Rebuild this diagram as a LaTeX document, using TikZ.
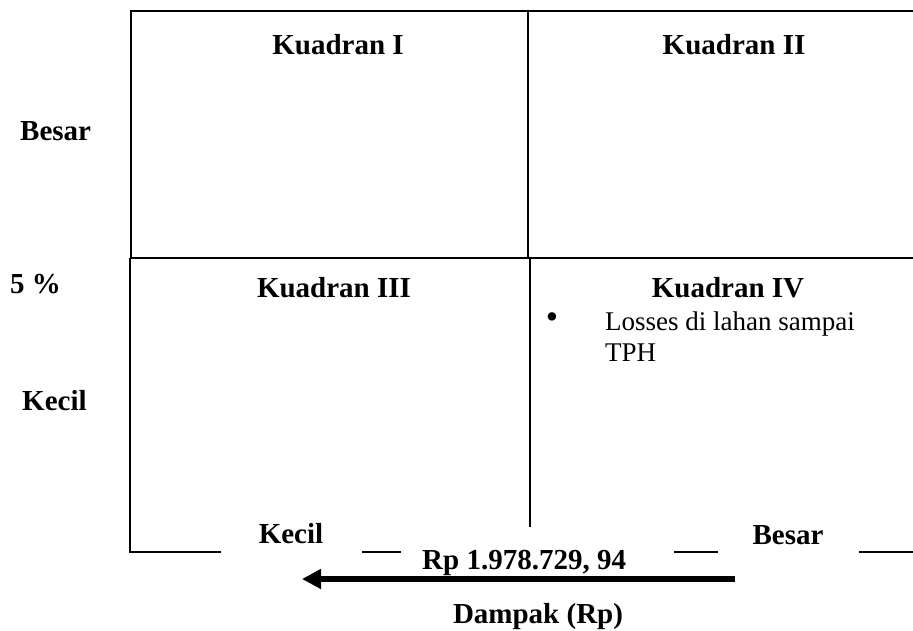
\documentclass[tikz,border=0pt]{standalone}
\usepackage{fontspec}
\setmainfont{Liberation Serif}
\usetikzlibrary{arrows.meta}

\begin{document}
\begin{tikzpicture}[x=1pt, y=-1pt,
  grid/.style={line width=1.6pt},
  head/.style={font=\fontsize{29}{35}\selectfont\bfseries, inner sep=0pt, anchor=base},
  item/.style={font=\fontsize{27}{31}\selectfont, inner sep=0pt, anchor=base west}]
  \useasboundingbox (0,0) rectangle (913,631);
  % top row
  \draw[grid] (131,258) -- (131,11) -- (913,11);
  \draw[grid] (528,11) -- (528,258);
  \draw[grid] (130,258) -- (913,258);
  % bottom row (broken by the axis labels)
  \draw[grid] (130,258) -- (130,552) -- (221,552);
  \draw[grid] (362,552) -- (401,552);
  \draw[grid] (674,552) -- (718,552);
  \draw[grid] (859,552) -- (913,552);
  \draw[grid] (530,258) -- (530,527);
  % quadrant titles
  \node[head] (q1) at (338,55) {Kuadran I};
  \node[head] (q2) at (734,55) {Kuadran II};
  \node[head] (q3) at (334,297) {Kuadran III};
  \node[head] (q4) at (728,297) {Kuadran IV};
  % vertical axis
  \node[head, anchor=base west] (ybig) at (20,141) {Besar};
  \node[head, anchor=base west] (ymid) at (10,293) {5 \%};
  \node[head, anchor=base west] (ysmall) at (22,410) {Kecil};
  % item in quadrant IV
  \node[item, anchor=center, scale=1.3] (dot) at (552,321) {\textbullet};
  \node[item] (loss1) at (605,330) {Losses di lahan sampai};
  \node[item] (loss2) at (605,361) {TPH};
  % horizontal axis
  \node[head] (xsmall) at (291,543) {Kecil};
  \node[head] (xbig) at (788,544) {Besar};
  \node[head, anchor=base west] (xmid) at (422,569) {Rp 1.978.729, 94};
  \coordinate (from) at (735,579);
  \coordinate (to) at (302,579);
  \draw[line width=5.5pt, -{Triangle[length=19pt, width=19pt]}] (from) -- (to);
  \node[head] (xlabel) at (538,623) {Dampak (Rp)};
\end{tikzpicture}
\end{document}
